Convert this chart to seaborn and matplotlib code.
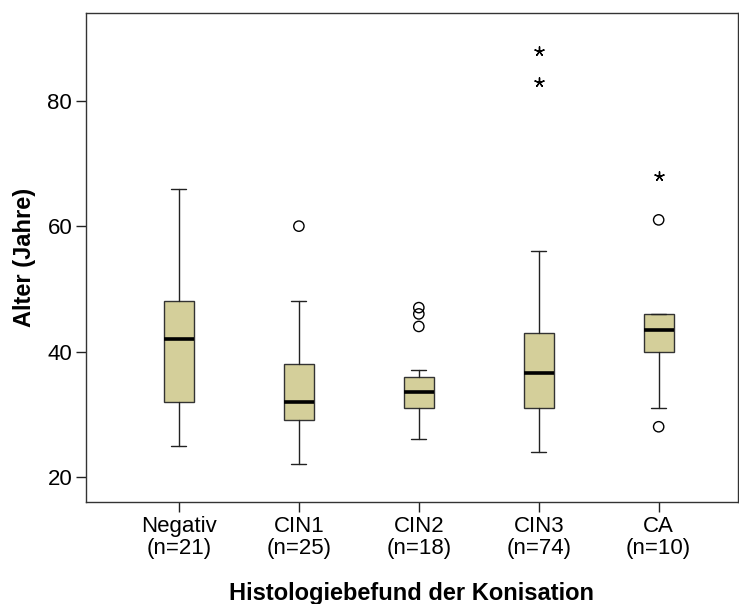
import matplotlib
matplotlib.use("Agg")
import matplotlib.pyplot as plt
import seaborn as sns
import pandas as pd

# Five-number summaries per histology group
groups = ["Negativ", "CIN1", "CIN2", "CIN3", "CA"]
counts = [21, 25, 18, 74, 10]
whisker_low = [25, 22, 26, 24, 31]
q1 = [32, 29, 31, 31, 40]
median = [42, 32, 33.5, 36.5, 43.5]
q3 = [48, 38, 36, 43, 46]
whisker_high = [66, 48, 37, 56, 46]

# Outliers (circles) and extreme values (asterisks)
outlier_group = ["CIN1", "CIN2", "CIN2", "CIN2", "CA", "CA"]
outlier_value = [60, 47, 46, 44, 61, 28]
extreme_group = ["CIN3", "CIN3", "CA"]
extreme_value = [88, 83, 68]

sns.set_style("ticks")
plt.rcParams["font.family"] = ["Liberation Sans", "DejaVu Sans"]
plt.rcParams["text.color"] = "black"
plt.rcParams["xtick.color"] = "black"
plt.rcParams["ytick.color"] = "black"
plt.rcParams["axes.labelcolor"] = "black"

fig = plt.figure(figsize=(7.39, 6.04), dpi=100)
ax = fig.add_axes([0.1164, 0.1689, 0.882, 0.8096])

stats = [
    dict(label=g, whislo=lo, q1=a, med=m, q3=b, whishi=hi, fliers=[])
    for g, lo, a, m, b, hi in zip(groups, whisker_low, q1, median, q3, whisker_high)
]
ax.bxp(
    stats, positions=range(len(groups)), widths=0.25, patch_artist=True,
    showfliers=False,
    boxprops=dict(facecolor="#D4CF9A", edgecolor="#333333", linewidth=1.0),
    medianprops=dict(color="black", linewidth=2.6, solid_capstyle="butt"),
    whiskerprops=dict(color="#222222", linewidth=1.0),
    capprops=dict(color="#222222", linewidth=1.0),
)

pos = {g: i for i, g in enumerate(groups)}
out_df = pd.DataFrame({"x": [pos[g] for g in outlier_group], "y": outlier_value})
ext_df = pd.DataFrame({"x": [pos[g] for g in extreme_group], "y": extreme_value})

sns.scatterplot(data=out_df, x="x", y="y", ax=ax, marker="o", s=55,
                facecolors="none", edgecolor="black", linewidth=1.0, zorder=5)
sns.scatterplot(data=ext_df, x="x", y="y", ax=ax, marker=(5, 2, 0), s=45,
                color="black", linewidth=1.0, zorder=5)

ax.set_xlim(-0.775, 4.66)
ax.set_ylim(16, 94)
ax.set_yticks([20, 40, 60, 80])
ax.set_xticks(range(len(groups)))
ax.set_xticklabels([f"{g}\n(n={n})" for g, n in zip(groups, counts)],
                   fontsize=16, linespacing=1.05)
ax.tick_params(axis="y", labelsize=16)
ax.tick_params(direction="out", length=7, width=1.0, color="#222222", pad=3)

for s in ax.spines.values():
    s.set_visible(True)
    s.set_color("#333333")
    s.set_linewidth(1.0)

ax.set_xlabel("Histologiebefund der Konisation", fontsize=17, fontweight="bold", labelpad=17)
ax.set_ylabel("Alter (Jahre)", fontsize=17, fontweight="bold", labelpad=8)

fig.savefig("out.png", dpi=100)
